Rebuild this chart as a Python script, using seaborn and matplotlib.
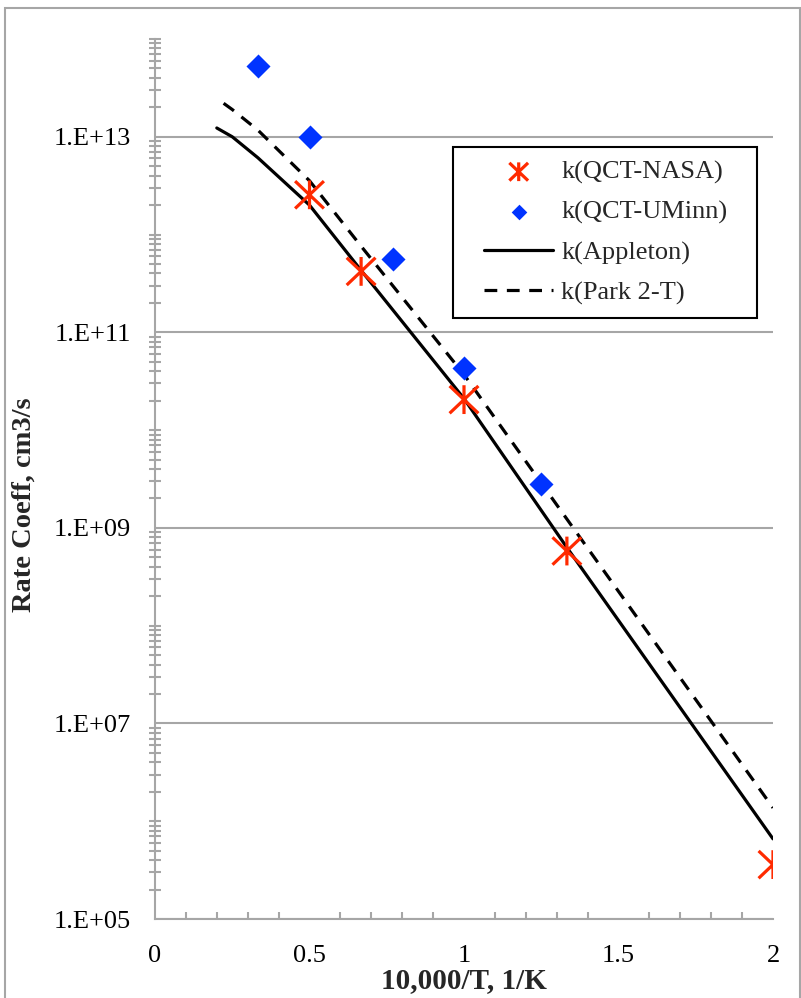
import numpy as np
import pandas as pd
import matplotlib
matplotlib.use("Agg")
import matplotlib.pyplot as plt
import matplotlib.ticker as mticker
from matplotlib.patches import Rectangle
from matplotlib.path import Path
from matplotlib.lines import Line2D
from matplotlib.collections import PathCollection
from matplotlib.legend_handler import HandlerLine2D, HandlerPathCollection
import seaborn as sns

# ---- data ----
nasa_x = [0.5, 0.667, 1.0, 1.333, 2.0]
nasa_y = [2.55e12, 4.2e11, 2.05e10, 5.8e8, 3.6e5]

uminn_x = [0.333, 0.5, 0.769, 1.0, 1.25]
uminn_y = [5.3e13, 1.0e13, 5.6e11, 4.3e10, 2.8e9]

appleton_x = [0.2, 0.25, 0.333, 0.5, 0.667, 1.0, 1.333, 2.0]
appleton_y = [1.23e13, 1.0e13, 6.1e12, 2.0e12, 4.3e11, 2.1e10, 6.3e8, 6.6e5]

park_x = [0.222, 0.25, 0.333, 0.5, 0.667, 1.0, 1.333, 2.0]
park_y = [2.2e13, 1.9e13, 1.17e13, 3.55e12, 7.6e11, 3.7e10, 1.23e9, 1.37e6]

xtick_vals = [0, 0.5, 1, 1.5, 2]
xtick_labels = ["0", "0.5", "1", "1.5", "2"]
ytick_vals = [1e5, 1e7, 1e9, 1e11, 1e13]
ytick_labels = ["1.E+05", "1.E+07", "1.E+09", "1.E+11", "1.E+13"]

sns.set_theme(style="white")
plt.rcParams["font.family"] = ["Liberation Serif", "DejaVu Serif"]

W, H = 801, 998
fig = plt.figure(figsize=(W / 100, H / 100), dpi=100)
ax = fig.add_axes([155 / W, 1 - 919 / H, (773 - 155) / W, (919 - 39) / H])

RED = "#FF2A00"
BLUE = "#0033FF"
GRAY = "#A6A6A6"

# asterisk marker: vertical bar + X
star = Path([(0, -1), (0, 1), (-1, -0.95), (1, 0.95), (-1, 0.95), (1, -0.95)],
            [Path.MOVETO, Path.LINETO, Path.MOVETO, Path.LINETO,
             Path.MOVETO, Path.LINETO])

ax.set_yscale("log")

sns.scatterplot(x=nasa_x, y=nasa_y, ax=ax, marker=star, s=430,
                facecolor="none", edgecolor=RED, linewidth=2.3,
                label="k(QCT-NASA)", zorder=5)
sns.scatterplot(x=uminn_x, y=uminn_y, ax=ax, marker="D", s=150,
                color=BLUE, linewidth=0, label="k(QCT-UMinn)", zorder=5)
sns.lineplot(x=appleton_x, y=appleton_y, ax=ax, color="black", lw=2.3,
             label="k(Appleton)", zorder=4, sort=False)
sns.lineplot(x=park_x, y=park_y, ax=ax, color="black", lw=2.3,
             label="k(Park 2-T)", zorder=4, sort=False)
ax.lines[-1].set_dashes((4, 3))

ax.set_xlim(0, 2)
ax.set_ylim(1e5, 1e14)

# ticks
ax.set_xticks(xtick_vals)
ax.set_xticklabels(xtick_labels)
ax.xaxis.set_minor_locator(mticker.FixedLocator(np.arange(0.1, 2.0, 0.1)))
ax.set_yticks(ytick_vals)
ax.set_yticklabels(ytick_labels)
minor_y = []
for e in range(5, 14):
    for m in range(1, 10):
        if m == 1 and e % 2 == 1:
            continue
        minor_y.append(m * 10.0 ** e)
minor_y.append(1e14)
ax.yaxis.set_minor_locator(mticker.FixedLocator(minor_y))
ax.yaxis.set_minor_formatter(mticker.NullFormatter())

ax.tick_params(axis="both", which="major", direction="inout", length=11,
               width=1.5, color=GRAY, labelsize=19, labelcolor="black")
ax.tick_params(axis="y", which="major", pad=12)
ax.tick_params(axis="x", which="major", pad=13)
ax.tick_params(axis="y", which="minor", direction="inout", length=9,
               width=1.5, color=GRAY, left=True)
ax.tick_params(axis="x", which="minor", direction="in", length=5,
               width=1.5, color=GRAY, bottom=True)

ax.grid(False)
ax.yaxis.grid(True, which="major", color=GRAY, lw=1.5)
for side in ["top", "right"]:
    ax.spines[side].set_visible(False)
for side in ["left", "bottom"]:
    ax.spines[side].set_color(GRAY)
    ax.spines[side].set_linewidth(1.5)

ax.set_xlabel("10,000/T, 1/K", fontsize=21, fontweight="bold", labelpad=0)
ax.set_ylabel("Rate Coeff, cm3/s", fontsize=20.5, fontweight="bold")
ax.yaxis.set_label_coords((37 - 155) / (773 - 155), (919 - 505) / (919 - 39))

handles, labels = ax.get_legend_handles_labels()
leg = ax.legend(handles, labels, loc="upper left",
                bbox_to_anchor=(453 / W, 1 - 308 / H, (757 - 453) / W, 161 / H),
                bbox_transform=fig.transFigure, mode="expand",
                fontsize=19, frameon=True, fancybox=False, framealpha=1,
                edgecolor="black", markerscale=0.65, handlelength=3.3,
                handletextpad=0.3, labelspacing=0.62, borderpad=0.5,
                borderaxespad=0, scatterpoints=1,
                handler_map={Line2D: HandlerLine2D(xpad=0.68),
                             PathCollection: HandlerPathCollection(xpad=0.68)})
leg.get_frame().set_linewidth(1.5)

# outer chart border
fig.patches.append(Rectangle((5 / W, -0.01), (800 - 5) / W, 1 - 8 / H + 0.01,
                             transform=fig.transFigure, fill=False,
                             edgecolor=GRAY, lw=1.5))

fig.savefig("out.png", dpi=100)
